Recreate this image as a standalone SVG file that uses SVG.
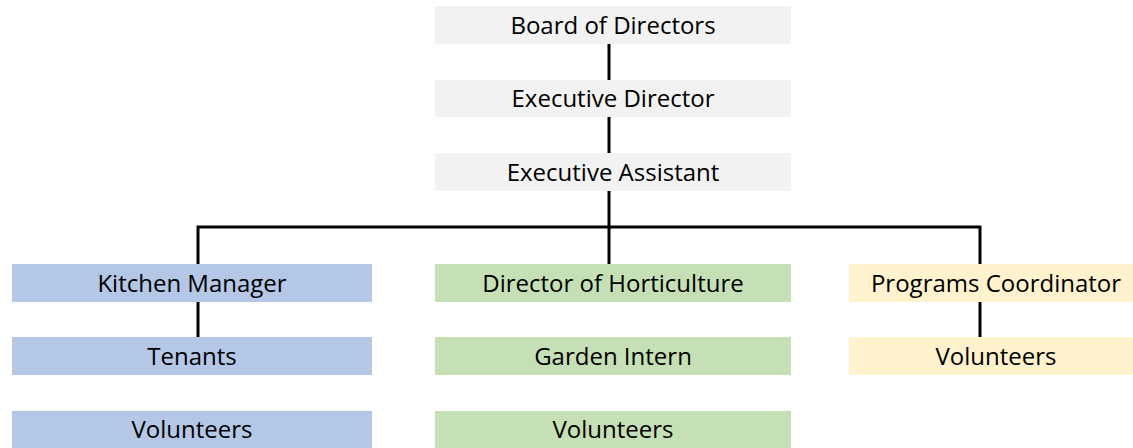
<svg xmlns="http://www.w3.org/2000/svg" width="1133" height="448" viewBox="0 0 1133 448">
<style>
.t{font-family:"Open Sans","Noto Sans","Liberation Sans",sans-serif;font-size:24px;fill:#000;text-anchor:middle}
.g{fill:#F2F2F2}.b{fill:#B4C7E7}.gr{fill:#C5E0B4}.y{fill:#FFF2CC}
.c{stroke:#000;stroke-width:3;fill:none}
</style>
<rect width="1133" height="448" fill="#fff"/>
<g id="connectors">
<path class="c" d="M609 44V80M609 117V153M609 191V264M198 264V227H980V264M198 302V337M980 302V337"/>
</g>
<g id="board"><rect class="g" x="435" y="6" width="356" height="38"/><text class="t" x="613" y="34">Board of Directors</text></g>
<g id="exec-director"><rect class="g" x="435" y="80" width="356" height="37"/><text class="t" x="613" y="107">Executive Director</text></g>
<g id="exec-assistant"><rect class="g" x="435" y="153" width="356" height="38"/><text class="t" x="613" y="181">Executive Assistant</text></g>
<g id="kitchen-manager"><rect class="b" x="12" y="264" width="360" height="38"/><text class="t" x="192" y="292">Kitchen Manager</text></g>
<g id="tenants"><rect class="b" x="12" y="337" width="360" height="38"/><text class="t" x="192" y="365">Tenants</text></g>
<g id="kitchen-volunteers"><rect class="b" x="12" y="411" width="360" height="37"/><text class="t" x="192" y="438">Volunteers</text></g>
<g id="horticulture"><rect class="gr" x="435" y="264" width="356" height="38"/><text class="t" x="613" y="292">Director of Horticulture</text></g>
<g id="garden-intern"><rect class="gr" x="435" y="337" width="356" height="38"/><text class="t" x="613" y="365">Garden Intern</text></g>
<g id="garden-volunteers"><rect class="gr" x="435" y="411" width="356" height="37"/><text class="t" x="613" y="438">Volunteers</text></g>
<g id="programs"><rect class="y" x="849" y="264" width="284" height="38"/><text class="t" x="996" y="292">Programs Coordinator</text></g>
<g id="programs-volunteers"><rect class="y" x="849" y="337" width="284" height="38"/><text class="t" x="996" y="365">Volunteers</text></g>
</svg>
